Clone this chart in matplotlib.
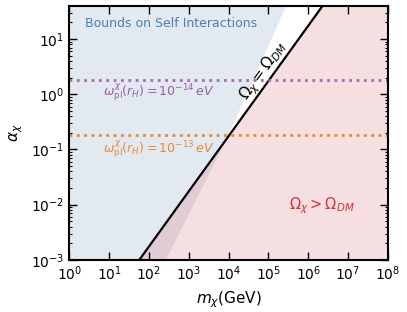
import numpy as np
import matplotlib
matplotlib.use("Agg")
import matplotlib.pyplot as plt

# boundaries (log-log)
m_relic = [10**1.76, 10**6.36]                 # Omega_chi = Omega_DM line
a_relic = [1e-3, 10**1.6]
m_self = [10**2.41, 10**3.98, 10**5.43]        # edge of self-interaction bound
a_self = [1e-3, 10**-0.74, 10**1.6]
alpha_14 = 1.8                                 # omega_pl = 1e-14 eV
alpha_13 = 0.18                                # omega_pl = 1e-13 eV

xmin, xmax = 1e0, 1e8
ymin, ymax = 1e-3, 10**1.6

fig = plt.figure(figsize=(4.07, 3.12), dpi=100)
ax = fig.add_axes([0.170, 0.167, 0.783, 0.814])

# blue region: left/above self-interaction edge
ax.fill_betweenx(a_self, [xmin] * len(m_self), m_self, color='#e3e9f1', lw=0)
# red region: right/below relic line
ax.fill_betweenx(a_relic, m_relic, [xmax, xmax], color=(0.79, 0.165, 0.19), alpha=0.15, lw=0)

ax.plot(m_relic, a_relic, color='k', lw=1.6)
ax.axhline(alpha_14, color='#a56bb0', ls=':', lw=2)
ax.axhline(alpha_13, color='#e8892f', ls=':', lw=2)

ax.text(10**0.4, 10**1.275, 'Bounds on Self Interactions', color='#4a7fb0',
        fontsize=9, va='center', ha='left')
ax.text(10**0.85, 10**0.03, r'$\omega^{\chi}_{\rm pl}(r_H)=10^{-14}\,eV$', color='#9a5ea6',
        fontsize=9, va='center', ha='left')
ax.text(10**0.85, 10**-1.0, r'$\omega^{\chi}_{\rm pl}(r_H)=10^{-13}\,eV$', color='#e8892f',
        fontsize=9, va='center', ha='left')
ax.text(10**4.88, 10**0.42, r'$\Omega_\chi=\Omega_{DM}$', color='k', fontsize=11,
        rotation=54, ha='center', va='center')
ax.text(10**6.35, 10**-2.02, r'$\Omega_\chi>\Omega_{DM}$', color='#d62f3a', fontsize=10.5,
        ha='center', va='center')

ax.set_xscale('log')
ax.set_yscale('log')
ax.set_xlim(xmin, xmax)
ax.set_ylim(ymin, ymax)
ax.set_xticks([10.0**k for k in range(0, 9)])
ax.set_yticks([10.0**k for k in range(-3, 2)])
ax.tick_params(which='both', direction='in', top=True, right=True, labelsize=10)
ax.tick_params(which='major', length=5.5, width=1)
ax.tick_params(which='minor', length=2.5, width=0.8)
for s in ax.spines.values():
    s.set_linewidth(1.5)

ax.set_xlabel(r'$m_\chi$(GeV)', fontsize=11)
ax.set_ylabel(r'$\alpha_\chi$', fontsize=11)

fig.savefig('out.png', dpi=100)
